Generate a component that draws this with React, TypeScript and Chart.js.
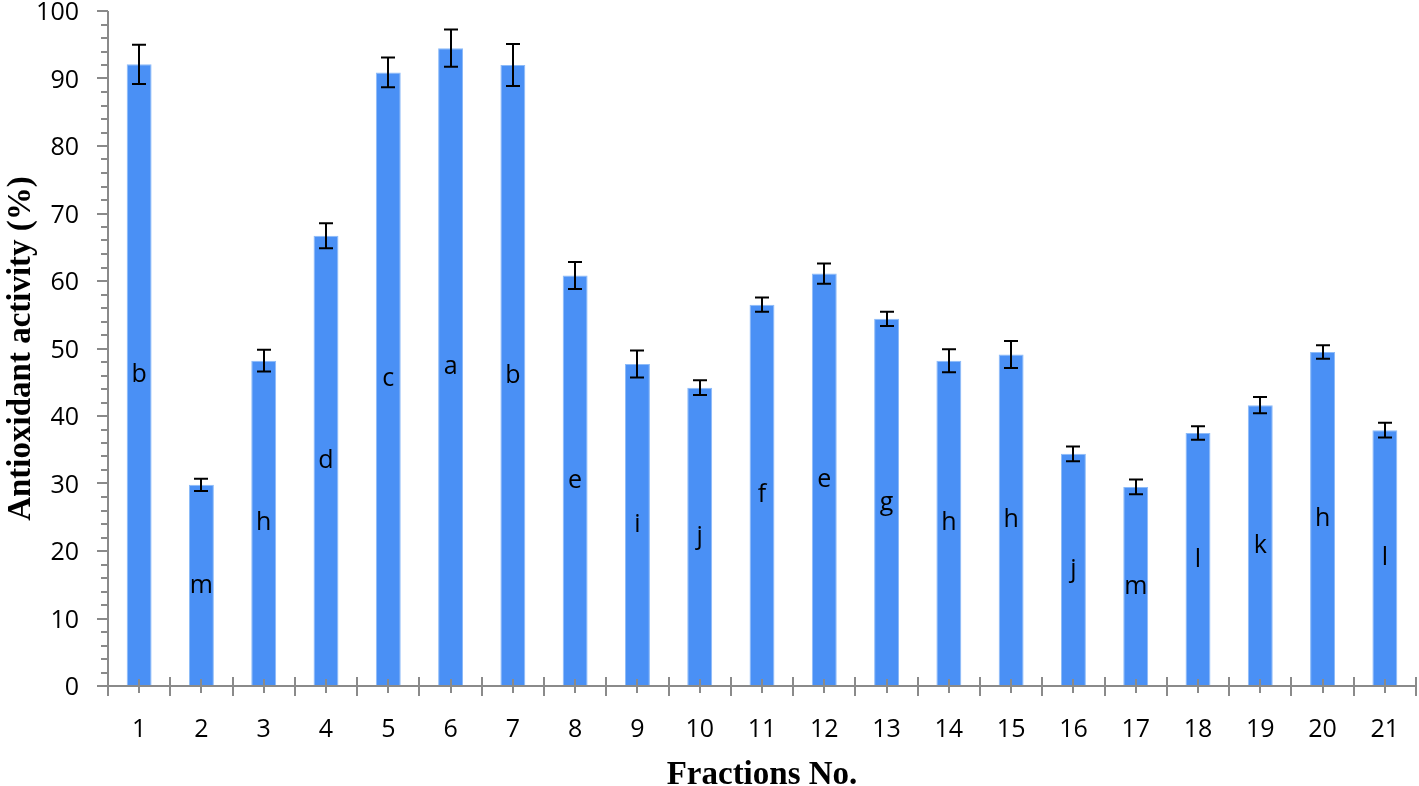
import React, { useEffect, useRef } from 'react';
import { Chart, registerables } from 'chart.js';

Chart.register(...registerables);

const categories = ['1','2','3','4','5','6','7','8','9','10','11','12','13','14','15','16','17','18','19','20','21'];
const values = [92.1, 29.8, 48.2, 66.7, 90.9, 94.5, 92.0, 60.8, 47.7, 44.2, 56.5, 61.1, 54.4, 48.2, 49.1, 34.4, 29.5, 37.5, 41.6, 49.5, 37.9];
const errors = [2.9, 0.9, 1.6, 1.85, 2.2, 2.75, 3.1, 2.0, 2.0, 1.1, 1.05, 1.5, 1.05, 1.7, 2.0, 1.1, 1.1, 1.0, 1.2, 1.0, 1.1];
const letters = ['b','m','h','d','c','a','b','e','i','j','f','e','g','h','h','j','m','l','k','h','l'];
const yTitle = 'Antioxidant activity (%)';
const xTitle = 'Fractions No.';
const minorStep = 2;

const SANS = '"Open Sans", sans-serif';
const SERIF = '"Liberation Serif", "Times New Roman", serif';
const AXIS = '#8a8a8a';
const LABEL_FONT = '25px ' + SANS;

const overlay = {
  id: 'overlay',
  afterDatasetsDraw(chart: any) {
    const { ctx, scales, chartArea } = chart;
    const x = scales.x;
    const y = scales.y;
    const y0 = y.getPixelForValue(0);
    const left = chartArea.left;
    ctx.save();
    // error bars
    ctx.strokeStyle = '#000';
    ctx.lineWidth = 2;
    values.forEach((v, i) => {
      const cx = Math.round(x.getPixelForValue(i));
      const t = y.getPixelForValue(v + errors[i]);
      const b = y.getPixelForValue(v - errors[i]);
      ctx.beginPath();
      ctx.moveTo(cx, t); ctx.lineTo(cx, b);
      ctx.moveTo(cx - 7, t); ctx.lineTo(cx + 7, t);
      ctx.moveTo(cx - 7, b); ctx.lineTo(cx + 7, b);
      ctx.stroke();
    });
    // letters
    ctx.fillStyle = '#000';
    ctx.font = LABEL_FONT;
    ctx.textAlign = 'center';
    ctx.textBaseline = 'middle';
    values.forEach((v, i) => {
      ctx.fillText(letters[i], x.getPixelForValue(i), y.getPixelForValue(v / 2));
    });
    // axes
    ctx.strokeStyle = AXIS;
    ctx.lineWidth = 2;
    ctx.beginPath();
    ctx.moveTo(left, y.getPixelForValue(y.max));
    ctx.lineTo(left, y0);
    ctx.moveTo(left - 11, y0);
    ctx.lineTo(chartArea.right, y0);
    for (let v = y.min; v <= y.max + 0.001; v += minorStep) {
      const py = Math.round(y.getPixelForValue(v));
      const len = v % 10 === 0 ? 11 : 7;
      ctx.moveTo(left - len, py);
      ctx.lineTo(left, py);
    }
    for (let i = 0; i <= categories.length; i++) {
      const px = Math.round(x.getPixelForValue(i - 0.5));
      ctx.moveTo(px, i === 0 ? y0 : y0 - 9);
      ctx.lineTo(px, y0 + 10);
    }
    for (let i = 0; i < categories.length; i++) {
      const px = Math.round(x.getPixelForValue(i));
      ctx.moveTo(px, y0 - 7);
      ctx.lineTo(px, y0 + 7);
    }
    ctx.stroke();
    // tick labels
    ctx.fillStyle = '#000';
    ctx.font = LABEL_FONT;
    ctx.textBaseline = 'alphabetic';
    ctx.textAlign = 'center';
    categories.forEach((c, i) => {
      ctx.fillText(c, x.getPixelForValue(i), y0 + 51);
    });
    ctx.textAlign = 'right';
    y.ticks.forEach((t: any) => {
      ctx.fillText(String(t.value), left - 29, y.getPixelForValue(t.value) + 9);
    });
    // titles
    ctx.font = 'bold 33px ' + SERIF;
    ctx.textAlign = 'center';
    ctx.fillText(xTitle, (chartArea.left + chartArea.right) / 2, 784);
    ctx.translate(30, (chartArea.top + chartArea.bottom) / 2);
    ctx.rotate(-Math.PI / 2);
    ctx.fillText(yTitle, 0, 0);
    ctx.restore();
  },
};

export default function App() {
  const ref = useRef<HTMLCanvasElement>(null);
  useEffect(() => {
    if (!ref.current) return;
    const chart = new Chart(ref.current, {
      type: 'bar',
      data: {
        labels: categories,
        datasets: [
          {
            data: values,
            backgroundColor: '#4A90F5',
            borderColor: '#8DBBF8',
            borderWidth: 1,
            barPercentage: 0.4,
            categoryPercentage: 1,
          },
        ],
      },
      options: {
        animation: false,
        responsive: false,
        maintainAspectRatio: false,
        layout: { padding: { top: 11, right: 3, bottom: 0, left: 0 } },
        plugins: { legend: { display: false }, tooltip: { enabled: false }, title: { display: false } },
        scales: {
          x: {
            offset: true,
            grid: { display: false },
            border: { display: false },
            ticks: { display: false },
            afterFit: (s: any) => { s.height = 100; },
          },
          y: {
            min: 0,
            max: 100,
            ticks: { stepSize: 10, display: false },
            grid: { display: false, drawTicks: false },
            border: { display: false },
            afterFit: (s: any) => { s.width = 108; },
          },
        },
      },
      plugins: [overlay],
    });
    return () => chart.destroy();
  }, []);
  return (
    <div style={{ position: 'absolute', left: 0, top: 0, width: 1419, height: 786, background: '#fff' }}>
      <canvas ref={ref} width={1419} height={786} style={{ display: 'block' }} />
    </div>
  );
}
